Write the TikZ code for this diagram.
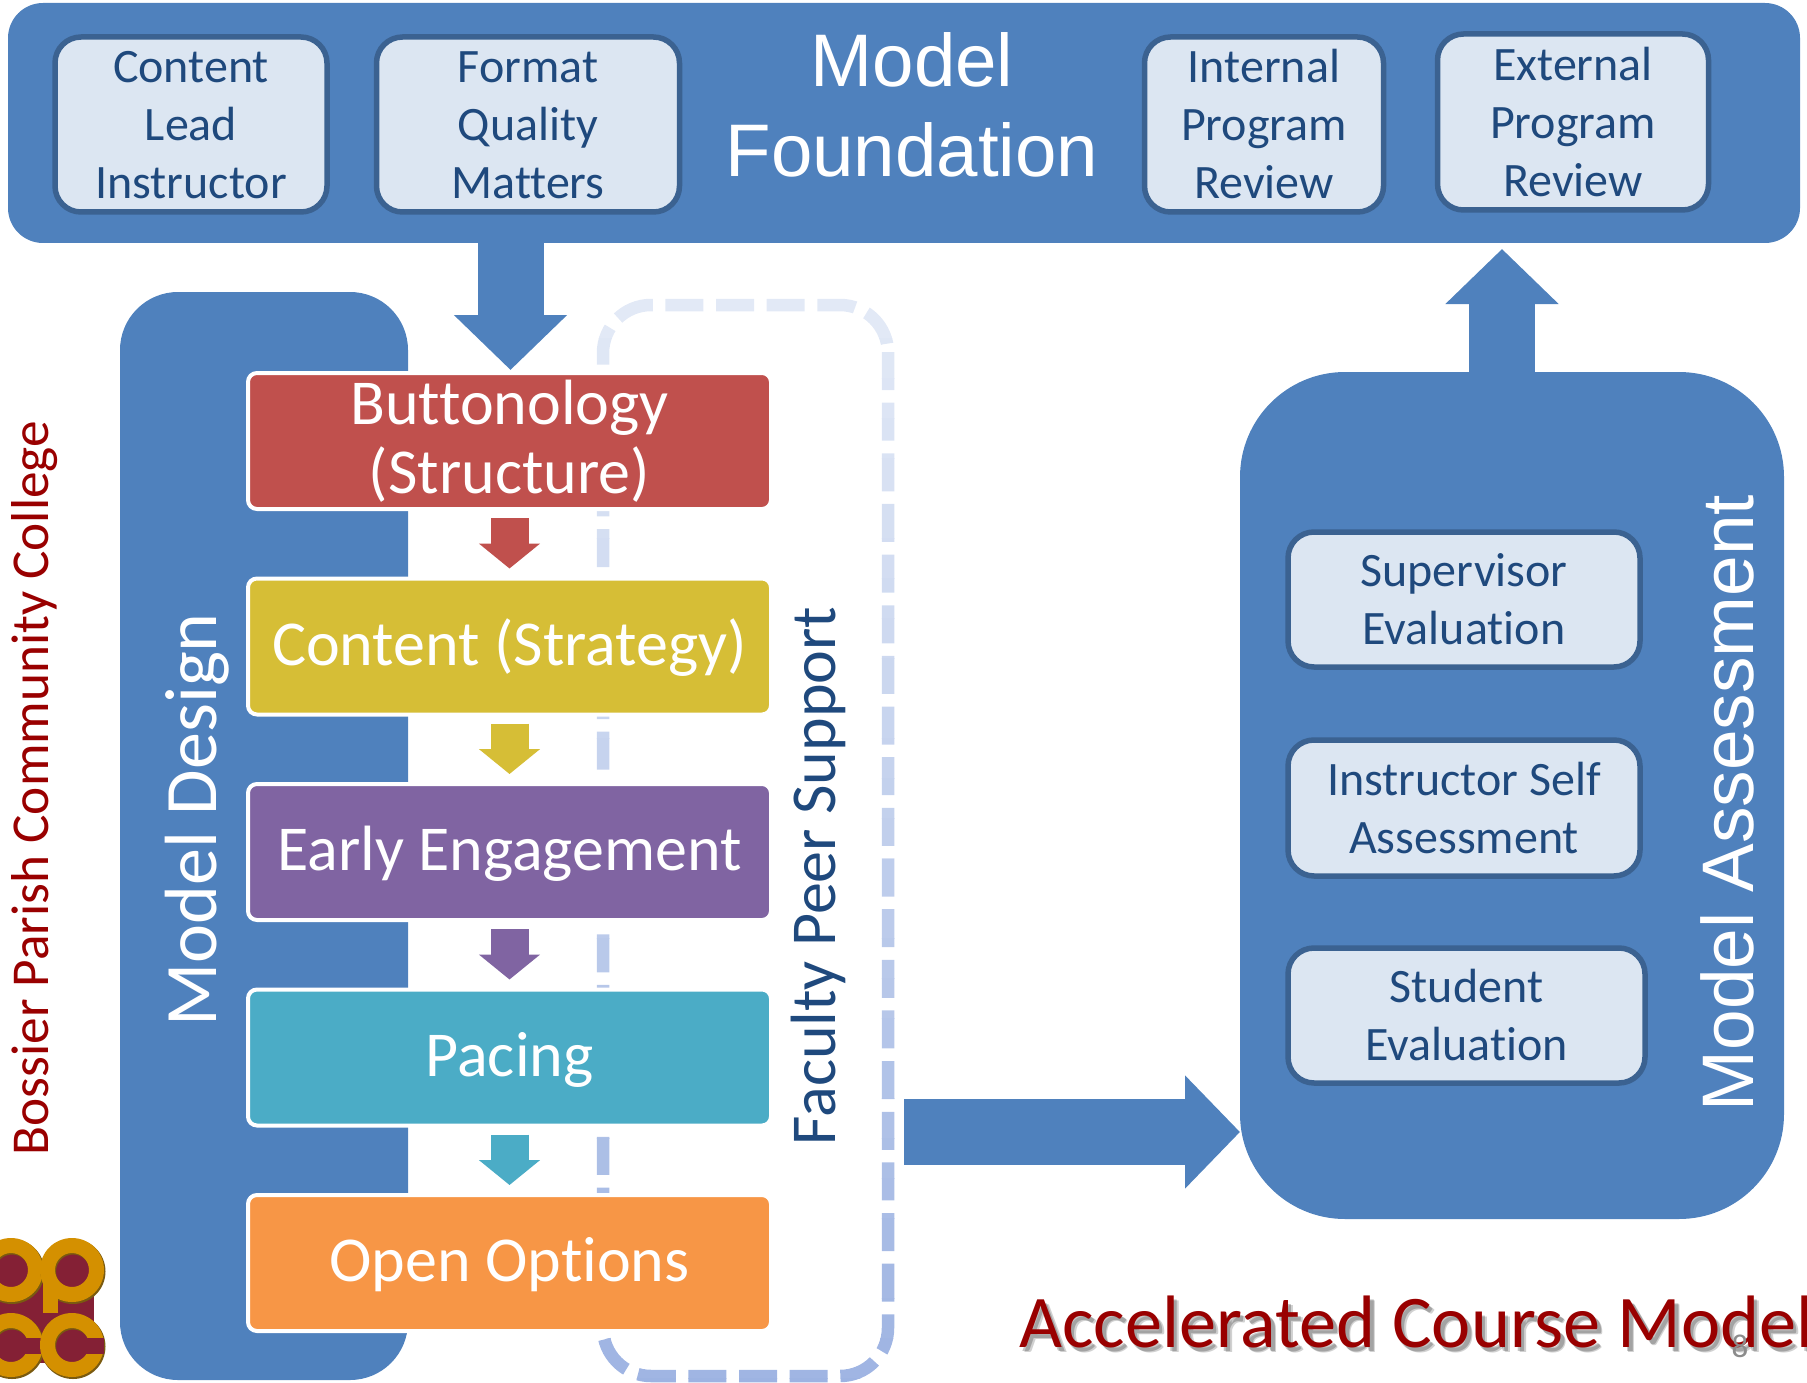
\documentclass[tikz,border=0pt]{standalone}
\usepackage{fontspec}
\setmainfont{Carlito}[Ligatures=NoCommon]
\newfontfamily\arialfont{Liberation Sans}
\usetikzlibrary{arrows.meta,calc}
\definecolor{panelblue}{HTML}{4F81BD}
\definecolor{softblue}{HTML}{DCE6F2}
\definecolor{edgeblue}{HTML}{3B6291}
\definecolor{inkblue}{HTML}{1F497D}
\definecolor{deepred}{HTML}{990000}
\definecolor{stageA}{HTML}{C0504D}
\definecolor{stageB}{HTML}{D6BE36}
\definecolor{stageC}{HTML}{8064A2}
\definecolor{stageD}{HTML}{4BACC6}
\definecolor{stageE}{HTML}{F79646}
\definecolor{dashtop}{HTML}{E2E9F6}
\definecolor{dashlow}{HTML}{9DB3E2}
\definecolor{logogold}{HTML}{D49000}
\definecolor{logored}{HTML}{842035}
\definecolor{logoshade}{HTML}{7A5A10}
\tikzset{
  x=1pt,y=-1pt,
  panel/.style={fill=panelblue,draw=none,outer sep=0,inner sep=0,anchor=north west},
  softbox/.style={fill=softblue,draw=edgeblue,line width=5.5pt,rounded corners=26pt,outer sep=0,inner sep=0,
    text=inkblue,align=center,font=\fontsize{48}{58}\selectfont},
  stagebox/.style={draw=white,line width=4pt,rounded corners=9pt,minimum width=523pt,minimum height=136pt,
    outer sep=0,inner sep=0,text=white,align=center,font=\fontsize{64}{69}\selectfont},
  oneline/.style={text height=37.5pt,text depth=0pt},
  bigarrow/.style={draw=panelblue,line width=66pt,-{Triangle[width=110pt,length=55pt,fill=panelblue]}},
  smallarrow/.style={line width=38pt,shorten <=9pt,shorten >=10pt},
  sidetext/.style={rotate=90,inner sep=0,outer sep=0},
  biglabel/.style={font=\arialfont\fontsize{74.5}{90}\selectfont,text=white,inner sep=0,align=center},
}
\begin{document}
\begin{tikzpicture}
\clip (0,0) rectangle (1807,1383);
% logo
\fill[logored] (0,1262) rectangle (94,1363);
\foreach \cx/\nm in {11/a,72/b}{
  \fill[logored] (\cx,1270) circle[radius=18];
  \fill[logoshade,even odd rule] (\cx+1,1271.5) circle[radius=32.5] (\cx+1,1271.5) circle[radius=17];
  \fill[logogold,even odd rule] (\cx,1270) circle[radius=32] (\cx,1270) circle[radius=17];
  \fill[logoshade,even odd rule] (\cx+1,1346.5) circle[radius=32.5] (\cx+1,1346.5) circle[radius=17];
  \fill[logogold,even odd rule] (\cx,1345) circle[radius=32] (\cx,1345) circle[radius=17];
  \fill[logored] (\cx+8,1338) rectangle (\cx+32,1354);
}
\fill[logogold] (43,1280) rectangle (58,1313);
% panels
\node[panel,rounded corners=35pt,minimum width=1792pt,minimum height=240pt] (foundation) at (8,3) {};
\node[panel,rounded corners=58pt,minimum width=288pt,minimum height=1088pt] (design) at (120,292) {};
\node[panel,rounded corners=105pt,minimum width=544pt,minimum height=847pt] (assessment) at (1240,372) {};
% dashed frame
\foreach \i in {0,...,27}{
  \pgfmathsetmacro{\mixv}{100-100*\i/27}
  \begin{scope}
    \clip (590,{298+\i*40}) rectangle (900,{338.5+\i*40});
    \draw[color=dashtop!\mixv!dashlow,line width=12.5pt,dash pattern=on 38pt off 12.65pt]
      (888,352) -- (888,1328) arc[start angle=0,end angle=90,radius=48]
      -- (651,1376) arc[start angle=90,end angle=180,radius=48]
      -- (603,353) arc[start angle=180,end angle=270,radius=48]
      -- (840,305) arc[start angle=270,end angle=360,radius=48] -- cycle;
  \end{scope}
}
% inner boxes, top
\node[softbox,minimum width=272pt,minimum height=175pt] (lead) at (191,124.5) {\vphantom{l}Content\\Lead\\Instructor};
\node[softbox,minimum width=303pt,minimum height=175pt] (format) at (528,124.5) {\vphantom{l}Format\\Quality\\Matters};
\node[softbox,minimum width=239pt,minimum height=175pt] (internal) at (1264,124.5) {Internal\\Program\\Review};
\node[softbox,minimum width=271pt,minimum height=176pt] (external) at (1573,122) {\vphantom{l}External\\Program\\Review};
\node[biglabel] (foundlabel) at (912,105) {Model\\Foundation};
% stages
\node[stagebox,fill=stageA] (s1) at (509.5,441) {Buttonology\\(Structure)};
\node[stagebox,oneline,fill=stageB] (s2) at (509.5,646.5) {Content (Strategy)};
\node[stagebox,oneline,fill=stageC] (s3) at (509.5,852) {Early Engagement};
\node[stagebox,oneline,fill=stageD] (s4) at (509.5,1057.5) {Pacing};
\node[stagebox,oneline,fill=stageE] (s5) at (509.5,1263) {Open Options};
% block arrows
\coordinate (downstart) at (510.5,243);
\coordinate (downtip) at (510.5,370);
\draw[bigarrow] (downstart) -- (downtip);
\draw[smallarrow,draw=stageA,-{Triangle[width=60pt,length=25pt,fill=stageA]}] (s1.south) -- (s2.north);
\draw[smallarrow,draw=stageB,-{Triangle[width=60pt,length=25pt,fill=stageB]}] (s2.south) -- (s3.north);
\draw[smallarrow,draw=stageC,-{Triangle[width=60pt,length=25pt,fill=stageC]}] (s3.south) -- (s4.north);
\draw[smallarrow,draw=stageD,-{Triangle[width=60pt,length=25pt,fill=stageD]}] (s4.south) -- (s5.north);
\coordinate (upstart) at (1502,372);
\coordinate (uptip) at (1502,249);
\draw[bigarrow] (upstart) -- (uptip);
\coordinate (rightstart) at (904,1132);
\coordinate (righttip) at (1240,1132);
\draw[bigarrow] (rightstart) -- (righttip);
% assessment boxes
\node[softbox,minimum width=352pt,minimum height=135pt] (supervisor) at (1464,599.5) {\vphantom{l}Supervisor\\Evaluation};
\node[softbox,minimum width=352pt,minimum height=136pt] (selfassess) at (1464,808) {Instructor Self\\Assessment};
\node[softbox,minimum width=357pt,minimum height=135pt] (student) at (1466.5,1015.5) {Student\\Evaluation};
% side labels
\node[sidetext,text=white,font=\fontsize{74}{74}\selectfont] (designlabel) at (197,820) {Model Design};
\node[sidetext,text=inkblue,font=\fontsize{64}{64}\selectfont] (peerlabel) at (818,876) {Faculty Peer Support};
\node[sidetext,text=deepred,font=\fontsize{53.3}{53}\selectfont] (bossier) at (35,788) {Bossier Parish Community College};
\node[sidetext,text=white,font=\arialfont\fontsize{73}{73}\selectfont] (assesslabel) at (1727,803) {Model Assessment};
% title
\node[anchor=base west,inner sep=0,text=black,opacity=.18,font=\fontsize{74.3}{75}\selectfont] (titleshadeb) at (1024,1352.5) {Accelerated Course Model};
\node[anchor=base west,inner sep=0,text=black,opacity=.22,font=\fontsize{74.3}{75}\selectfont] (titleshadea) at (1022.5,1351) {Accelerated Course Model};
\node[anchor=base west,inner sep=0,text=deepred,font=\fontsize{74.3}{75}\selectfont] (title) at (1019,1347.5) {Accelerated Course Model};
\node[anchor=base,inner sep=0,text=gray!90,font=\fontsize{33}{33}\selectfont] (pagenum) at (1740,1357) {8};
\end{tikzpicture}
\end{document}
